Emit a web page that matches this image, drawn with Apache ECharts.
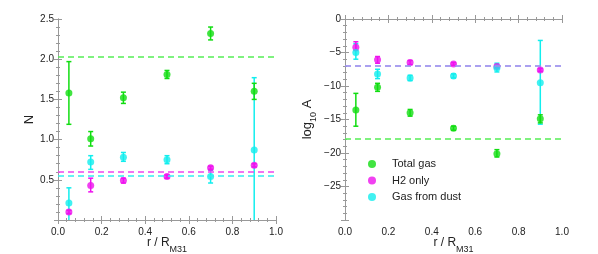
<!DOCTYPE html>
<html><head><meta charset="utf-8">
<script src="https://cdn.jsdelivr.net/npm/echarts@6/dist/echarts.min.js"></script>
<style>html,body{margin:0;padding:0;background:#fff}#c{width:598px;height:254px}</style>
</head><body><div id="c"></div>
<script>
// ---- data ----
const radius = [0.05, 0.15, 0.3, 0.5, 0.7, 0.9];
const seriesNames = ['Total gas', 'H2 only', 'Gas from dust'];

// Left panel: N
const nTotal   = [1.58, 1.01, 1.52, 1.81, 2.32, 1.60];
const nTotalLo = [1.19, 0.92, 1.45, 1.76, 2.24, 1.50];
const nTotalHi = [1.97, 1.10, 1.59, 1.86, 2.40, 1.70];
const nH2      = [0.10, 0.43, 0.49, 0.54, 0.65, 0.68];
const nH2Lo    = [0.08, 0.35, 0.46, 0.52, 0.63, 0.66];
const nH2Hi    = [0.12, 0.52, 0.52, 0.56, 0.67, 0.70];
const nDust    = [0.21, 0.72, 0.78, 0.75, 0.54, 0.87];
const nDustLo  = [-0.10, 0.63, 0.73, 0.70, 0.46, -0.10];
const nDustHi  = [0.40, 0.80, 0.84, 0.80, 0.62, 1.77];
const nFit     = [2.03, 0.60, 0.55];

// Right panel: log10 A
const aTotal   = [-13.6, -10.2, -14.0, -16.3, -20.1, -14.9];
const aTotalLo = [-16.0, -10.8, -14.5, -16.6, -20.6, -15.5];
const aTotalHi = [-11.1, -9.6, -13.5, -16.0, -19.5, -14.3];
const aH2      = [-4.2, -6.1, -6.5, -6.7, -7.1, -7.6];
const aH2Lo    = [-4.7, -6.6, -6.8, -6.9, -7.3, -7.8];
const aH2Hi    = [-3.4, -5.6, -6.2, -6.5, -6.9, -7.4];
const aDust    = [-5.0, -8.2, -8.8, -8.5, -7.3, -9.5];
const aDustLo  = [-6.0, -8.9, -9.2, -8.8, -7.9, -15.7];
const aDustHi  = [-3.7, -7.5, -8.4, -8.2, -6.6, -3.2];
const aFit     = [-17.8, -7.05, -7.05];

const colors = ['#11dd11', '#ee11ee', '#11eeee'];
const fitColors = ['#55ee55', '#ee44ee', '#33eeee'];

// ---- helpers ----
const frame = '#999';
const font = 'Liberation Sans, Arial, Helvetica, sans-serif';
function pairs(xs, ys){ return xs.map((x,i)=>[x, ys[i]]); }
function triples(xs, lo, hi){ return xs.map((x,i)=>[x, lo[i], hi[i]]); }

function errSeries(gi, data, color, yMin, yMax){
  return {
    type: 'custom', xAxisIndex: gi*2, yAxisIndex: gi*2, z: 3, silent: true,
    encode: {x: 0, y: [1, 2]},
    data: data,
    renderItem: function(params, api){
      const x = api.value(0);
      let lo = api.value(1), hi = api.value(2);
      const loClip = lo < yMin, hiClip = hi > yMax;
      lo = Math.max(lo, yMin); hi = Math.min(hi, yMax);
      const p1 = api.coord([x, lo]), p2 = api.coord([x, hi]);
      const cw = 2.5;
      const st = {stroke: color, lineWidth: 1.5};
      const ch = [{type:'line', shape:{x1:p1[0], y1:p1[1], x2:p2[0], y2:p2[1]}, style: st}];
      if(!loClip) ch.push({type:'line', shape:{x1:p1[0]-cw, y1:p1[1], x2:p1[0]+cw, y2:p1[1]}, style: st});
      if(!hiClip) ch.push({type:'line', shape:{x1:p2[0]-cw, y1:p2[1], x2:p2[0]+cw, y2:p2[1]}, style: st});
      return {type:'group', children: ch};
    }
  };
}
function dotSeries(gi, name, data, color, fit, fitColor, fitOpacity){
  return {
    type: 'scatter', name: name, xAxisIndex: gi*2, yAxisIndex: gi*2, z: 4,
    symbol: 'circle', symbolSize: 7, itemStyle: {color: color},
    data: data,
    markLine: {silent: true, symbol: 'none', label: {show: false}, animation: false,
      lineStyle: {color: fitColor, type: [6, 4], width: 1.5, opacity: fitOpacity},
      data: [{yAxis: fit}]}
  };
}
function xAxes(gi){
  const common = {type:'value', gridIndex: gi, min: 0, max: 1, interval: 0.2,
    axisLine: {show: true, lineStyle: {color: frame}},
    axisTick: {show: true, inside: true, length: 4, lineStyle: {color: frame}},
    minorTick: {show: true, splitNumber: 5, length: 2, lineStyle: {color: frame}},
    splitLine: {show: false}};
  return [
    Object.assign({}, common, {position: 'bottom',
      axisLabel: {color: '#222', fontFamily: font, fontSize: 10, margin: 7, formatter: v => v.toFixed(1)},
      name: '{a|r / R}{b|M31}', nameLocation: 'middle', nameGap: 17, nameMoveOverlap: false,
      nameTextStyle: {rich: {
        a: {fontFamily: font, fontSize: 12, color: '#222', verticalAlign: 'top'},
        b: {fontFamily: font, fontSize: 9, color: '#222', verticalAlign: 'top', padding: [8, 0, 0, 0]}}}}),
    Object.assign({}, common, {position: 'top', axisLabel: {show: false}})
  ];
}
function yAxes(gi, min, max, interval, fmt, name, gap){
  const common = {type:'value', gridIndex: gi, min: min, max: max, interval: interval,
    axisLine: {show: true, lineStyle: {color: frame}},
    axisTick: {show: true, inside: true, length: 4, lineStyle: {color: frame}},
    minorTick: {show: true, splitNumber: 5, length: 2, lineStyle: {color: frame}},
    splitLine: {show: false}};
  return [
    Object.assign({}, common, {position: 'left',
      axisLabel: {color: '#222', fontFamily: font, fontSize: 10, margin: 4, showMinLabel: false, formatter: fmt},
      name: name, nameLocation: 'middle', nameGap: gap,
      nameTextStyle: {rich: {
        a: {fontFamily: font, fontSize: 13, color: '#222', verticalAlign: 'top', lineHeight: 18},
        b: {fontFamily: font, fontSize: 9, color: '#222', verticalAlign: 'bottom', lineHeight: 18}}}}),
    Object.assign({}, common, {position: 'right', axisLabel: {show: false}})
  ];
}

const chart = echarts.init(document.getElementById('c'), null, {renderer: 'canvas'});
const option = {
  animation: false,
  backgroundColor: '#fff',
  grid: [
    {left: 58, right: 322, top: 19, bottom: 34, outerBoundsContain: 'axisLabel',
     outerBounds: {left: 0, right: 0, top: 0, bottom: 0}},
    {left: 345, right: 36, top: 19, bottom: 34, outerBoundsContain: 'axisLabel',
     outerBounds: {left: 0, right: 0, top: 0, bottom: 0}}
  ],
  xAxis: [...xAxes(0), ...xAxes(1)],
  yAxis: [
    ...yAxes(0, 0, 2.5, 0.5, v => v.toFixed(1), '{a|N}', 16.5),
    ...yAxes(1, -30, 0, 5, v => String(v).replace('-', '\u2212'), '{a|log}{b|10}{a| A}', 26.5)
  ],
  legend: {
    left: 368, top: 158.5, padding: 0, orient: 'vertical', itemWidth: 8, itemHeight: 8, itemGap: 5.5,
    icon: 'circle', data: seriesNames,
    textStyle: {fontFamily: font, fontSize: 11, color: '#222', padding: [0, 0, 0, 11]}
  },
  series: [
    errSeries(0, triples(radius, nDustLo, nDustHi), colors[2], 0, 2.5),
    errSeries(0, triples(radius, nH2Lo, nH2Hi), colors[1], 0, 2.5),
    errSeries(0, triples(radius, nTotalLo, nTotalHi), colors[0], 0, 2.5),
    dotSeries(0, seriesNames[1], pairs(radius, nH2), colors[1], nFit[1], fitColors[1], 1),
    dotSeries(0, seriesNames[2], pairs(radius, nDust), colors[2], nFit[2], fitColors[2], 1),
    dotSeries(0, seriesNames[0], pairs(radius, nTotal), colors[0], nFit[0], fitColors[0], 1),
    errSeries(1, triples(radius, aDustLo, aDustHi), colors[2], -30, 0),
    errSeries(1, triples(radius, aH2Lo, aH2Hi), colors[1], -30, 0),
    errSeries(1, triples(radius, aTotalLo, aTotalHi), colors[0], -30, 0),
    dotSeries(1, seriesNames[1], pairs(radius, aH2), colors[1], aFit[1], fitColors[1], 1),
    dotSeries(1, seriesNames[2], pairs(radius, aDust), colors[2], aFit[2], fitColors[2], 0.5),
    dotSeries(1, seriesNames[0], pairs(radius, aTotal), colors[0], aFit[0], fitColors[0], 1)
  ]
};
chart.setOption(option);
</script></body></html>
